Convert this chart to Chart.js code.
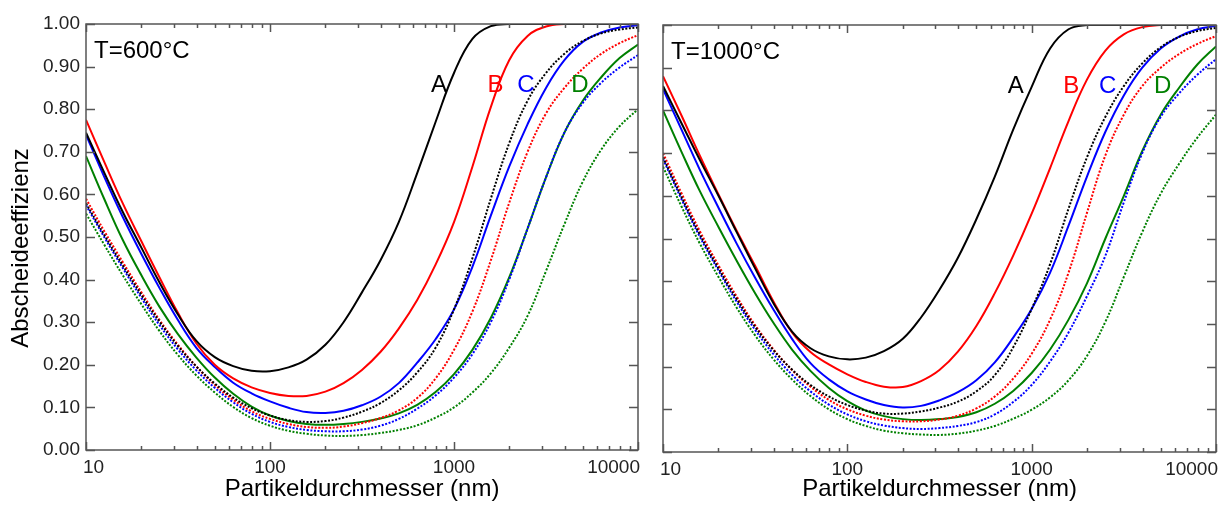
<!DOCTYPE html>
<html>
<head>
<meta charset="utf-8">
<script src="https://cdn.jsdelivr.net/npm/chart.js@4.4.1/dist/chart.umd.min.js"></script>
<style>
  html, body { margin: 0; padding: 0; background: #fff; }
  #wrap { position: relative; width: 1223px; height: 509px; }
  canvas { position: absolute; top: 0; }
  #c600 { left: 0; }
  #c1000 { left: 650px; }
</style>
</head>
<body>
<div id="wrap">
  <canvas id="c600" width="650" height="509"></canvas>
  <canvas id="c1000" width="573" height="509"></canvas>
</div>
<script>
// particle diameters (nm), 10 per decade
const diameters = [10, 12.6, 15.8, 20, 25.1, 31.6, 39.8, 50.1, 63.1, 79.4,
    100, 126, 158, 200, 251, 316, 398, 501, 631, 794,
    1000, 1259, 1585, 1995, 2512, 3162, 3981, 5012, 6310, 7943, 10000];

// T = 600 °C, solid curves
const t600A = [0.745, 0.650, 0.560, 0.475, 0.393, 0.318, 0.256, 0.218, 0.197, 0.186, 0.185, 0.194, 0.212, 0.247, 0.300, 0.370, 0.445, 0.535, 0.650, 0.770, 0.885, 0.965, 0.995, 1, 1, 1, 1, 1, 1, 1, 1];
const t600B = [0.775, 0.675, 0.580, 0.490, 0.405, 0.322, 0.250, 0.200, 0.168, 0.147, 0.134, 0.127, 0.127, 0.137, 0.157, 0.188, 0.230, 0.285, 0.352, 0.435, 0.535, 0.665, 0.805, 0.915, 0.972, 0.994, 1, 1, 1, 1, 1];
const t600C = [0.740, 0.640, 0.548, 0.460, 0.380, 0.305, 0.240, 0.195, 0.158, 0.133, 0.114, 0.099, 0.089, 0.087, 0.092, 0.105, 0.125, 0.157, 0.205, 0.260, 0.330, 0.430, 0.550, 0.665, 0.765, 0.850, 0.915, 0.958, 0.980, 0.992, 0.997];
const t600D = [0.690, 0.588, 0.494, 0.410, 0.336, 0.272, 0.217, 0.170, 0.132, 0.102, 0.081, 0.068, 0.061, 0.059, 0.061, 0.066, 0.074, 0.086, 0.106, 0.136, 0.178, 0.235, 0.310, 0.405, 0.520, 0.640, 0.745, 0.820, 0.875, 0.920, 0.952];
// T = 600 °C, dotted curves
const t600Adot = [0.579, 0.504, 0.434, 0.364, 0.301, 0.244, 0.196, 0.156, 0.123, 0.098, 0.081, 0.070, 0.066, 0.068, 0.076, 0.090, 0.110, 0.140, 0.182, 0.240, 0.330, 0.450, 0.590, 0.720, 0.820, 0.885, 0.930, 0.960, 0.978, 0.987, 0.992];
const t600Bdot = [0.590, 0.513, 0.442, 0.370, 0.305, 0.247, 0.196, 0.153, 0.118, 0.091, 0.073, 0.061, 0.054, 0.052, 0.055, 0.063, 0.075, 0.093, 0.122, 0.168, 0.235, 0.325, 0.445, 0.580, 0.700, 0.790, 0.850, 0.895, 0.930, 0.955, 0.974];
const t600Cdot = [0.575, 0.499, 0.428, 0.357, 0.293, 0.236, 0.187, 0.146, 0.112, 0.085, 0.066, 0.054, 0.047, 0.044, 0.044, 0.048, 0.057, 0.073, 0.097, 0.128, 0.170, 0.225, 0.300, 0.400, 0.520, 0.640, 0.745, 0.815, 0.862, 0.898, 0.927];
const t600Ddot = [0.555, 0.481, 0.411, 0.342, 0.279, 0.223, 0.175, 0.135, 0.101, 0.075, 0.057, 0.045, 0.038, 0.034, 0.033, 0.035, 0.040, 0.047, 0.058, 0.076, 0.100, 0.135, 0.180, 0.240, 0.315, 0.420, 0.530, 0.630, 0.705, 0.760, 0.800];

// T = 1000 °C, solid curves
const t1000A = [0.857, 0.770, 0.685, 0.600, 0.515, 0.430, 0.348, 0.282, 0.243, 0.224, 0.217, 0.221, 0.236, 0.265, 0.315, 0.380, 0.455, 0.545, 0.645, 0.755, 0.855, 0.945, 0.990, 1, 1, 1, 1, 1, 1, 1, 1];
const t1000B = [0.880, 0.788, 0.695, 0.603, 0.518, 0.436, 0.352, 0.280, 0.234, 0.205, 0.182, 0.164, 0.153, 0.152, 0.166, 0.192, 0.235, 0.295, 0.372, 0.460, 0.558, 0.665, 0.775, 0.872, 0.940, 0.978, 0.995, 1, 1, 1, 1];
const t1000C = [0.850, 0.755, 0.662, 0.572, 0.488, 0.408, 0.333, 0.265, 0.208, 0.170, 0.142, 0.123, 0.110, 0.104, 0.108, 0.121, 0.140, 0.168, 0.210, 0.268, 0.335, 0.420, 0.530, 0.645, 0.750, 0.835, 0.900, 0.945, 0.973, 0.990, 0.998];
const t1000D = [0.800, 0.703, 0.612, 0.527, 0.448, 0.372, 0.302, 0.240, 0.190, 0.150, 0.119, 0.097, 0.084, 0.077, 0.075, 0.077, 0.082, 0.093, 0.113, 0.143, 0.185, 0.240, 0.310, 0.395, 0.500, 0.600, 0.705, 0.790, 0.853, 0.908, 0.950];
// T = 1000 °C, dotted curves
const t1000Adot = [0.690, 0.597, 0.510, 0.430, 0.358, 0.293, 0.238, 0.193, 0.157, 0.130, 0.110, 0.097, 0.090, 0.090, 0.095, 0.104, 0.118, 0.142, 0.180, 0.245, 0.335, 0.440, 0.570, 0.690, 0.785, 0.857, 0.910, 0.948, 0.972, 0.986, 0.993];
const t1000Bdot = [0.700, 0.606, 0.518, 0.437, 0.364, 0.297, 0.240, 0.192, 0.153, 0.122, 0.100, 0.085, 0.076, 0.072, 0.072, 0.076, 0.085, 0.102, 0.130, 0.172, 0.230, 0.310, 0.420, 0.560, 0.695, 0.790, 0.857, 0.900, 0.932, 0.956, 0.974];
const t1000Cdot = [0.686, 0.592, 0.505, 0.425, 0.352, 0.286, 0.229, 0.181, 0.142, 0.111, 0.088, 0.072, 0.062, 0.056, 0.054, 0.056, 0.061, 0.070, 0.088, 0.117, 0.157, 0.212, 0.280, 0.365, 0.460, 0.585, 0.700, 0.785, 0.840, 0.884, 0.920];
const t1000Ddot = [0.668, 0.575, 0.489, 0.410, 0.338, 0.273, 0.217, 0.170, 0.131, 0.100, 0.077, 0.061, 0.050, 0.044, 0.041, 0.040, 0.043, 0.050, 0.061, 0.078, 0.099, 0.128, 0.168, 0.225, 0.305, 0.410, 0.515, 0.605, 0.675, 0.737, 0.790];

// axes
const xMajorTicks = [10, 100, 1000, 10000];
const xTickLabels = ['10', '100', '1000', '10000'];
const yTickValues = [0, 0.1, 0.2, 0.3, 0.4, 0.5, 0.6, 0.7, 0.8, 0.9, 1.0];
const yTickLabels = ['0.00', '0.10', '0.20', '0.30', '0.40', '0.50', '0.60', '0.70', '0.80', '0.90', '1.00'];

// curve names and where they sit (diameter, efficiency)
const curveNames = ['A', 'B', 'C', 'D'];
const nameX600 = [830, 1680, 2460, 4840];
const nameX1000 = [820, 1640, 2580, 5140];
const nameY = 0.857;

const FONT = "'Liberation Sans', Arial, sans-serif";
const COLORS = ['#000000', '#ff0000', '#0000ff', '#008000'];

// all minor + major tick values for the log axis
const xTickValues = [];
for (let dec = 10; dec < 10000; dec *= 10) {
    for (let m = 1; m < 10; m++) xTickValues.push(dec * m);
}
xTickValues.push(10000);

const panelDecor = {
    id: 'panelDecor',
    afterDatasetsDraw(chart, args, opts) {
        const { ctx, chartArea: a, scales: { x, y } } = chart;
        ctx.save();
        // frame + inward ticks
        ctx.strokeStyle = '#555';
        ctx.lineWidth = 1.5;
        ctx.strokeRect(a.left, a.top, a.right - a.left, a.bottom - a.top);
        ctx.beginPath();
        yTickValues.forEach(v => {
            const py = Math.round(y.getPixelForValue(v)) + 0.5;
            ctx.moveTo(a.left, py); ctx.lineTo(a.left + 9, py);
            ctx.moveTo(a.right, py); ctx.lineTo(a.right - 9, py);
        });
        x.ticks.forEach(t => {
            const px = Math.round(x.getPixelForValue(t.value)) + 0.5;
            const len = t.major ? 8 : 4;
            ctx.moveTo(px, a.bottom); ctx.lineTo(px, a.bottom - len);
            ctx.moveTo(px, a.top); ctx.lineTo(px, a.top + len);
        });
        ctx.stroke();

        // x tick labels, first and last kept inside the frame
        ctx.fillStyle = '#222';
        ctx.font = '19px ' + FONT;
        ctx.textBaseline = 'middle';
        const last = xMajorTicks.length - 1;
        xMajorTicks.forEach((v, i) => {
            const px = x.getPixelForValue(v);
            let tx = px;
            ctx.textAlign = 'center';
            if (i === 0) { ctx.textAlign = 'left'; tx = px - 3; }
            if (i === last) { ctx.textAlign = 'right'; tx = px + 2; }
            ctx.fillText(xTickLabels[i], tx, a.bottom + 18);
        });

        // temperature
        ctx.fillStyle = '#000';
        ctx.font = '24px ' + FONT;
        ctx.textAlign = 'left';
        ctx.fillText(opts.tempText, a.left + 8, a.top + 27);

        // curve names
        ctx.textAlign = 'center';
        curveNames.forEach((n, i) => {
            ctx.fillStyle = COLORS[i];
            ctx.fillText(n, x.getPixelForValue(opts.nameX[i]), y.getPixelForValue(nameY));
        });

        // y title (left panel only)
        if (opts.yTitle) {
            ctx.fillStyle = '#000';
            ctx.translate(21, (a.top + a.bottom) / 2 + 11);
            ctx.rotate(-Math.PI / 2);
            ctx.textAlign = 'center';
            ctx.fillText(opts.yTitle, 0, 0);
        }
        ctx.restore();
    }
};

function toPoints(vals) {
    return diameters.map((d, i) => ({ x: d, y: vals[i] }));
}

function drawPanel(id, tempText, solid, dotted, nameX, showY, box) {
    const datasets = [];
    dotted.forEach((vals, i) => datasets.push({
        data: toPoints(vals),
        borderColor: COLORS[i],
        borderWidth: 2,
        borderDash: [2, 1.6],
        pointRadius: 0,
        tension: 0.4
    }));
    solid.forEach((vals, i) => datasets.push({
        data: toPoints(vals),
        borderColor: COLORS[i],
        borderWidth: 2,
        pointRadius: 0,
        tension: 0.4
    }));

    new Chart(id, {
        type: 'line',
        data: { datasets },
        plugins: [panelDecor],
        options: {
            responsive: false,
            animation: false,
            events: [],
            layout: { padding: { left: 0, right: box.right, top: box.top, bottom: 0 } },
            plugins: {
                legend: { display: false },
                tooltip: { enabled: false },
                panelDecor: { tempText, nameX, yTitle: showY ? 'Abscheideeffizienz' : null }
            },
            scales: {
                x: {
                    type: 'logarithmic',
                    min: 10,
                    max: 10000,
                    grid: { display: false, drawTicks: false },
                    border: { display: false },
                    ticks: { display: false },
                    afterBuildTicks: s => {
                        s.ticks = xTickValues.map(v => ({ value: v, major: xMajorTicks.includes(v) }));
                    },
                    afterFit: s => { s.height = box.xHeight; },
                    title: {
                        display: true,
                        text: 'Partikeldurchmesser (nm)',
                        color: '#000',
                        font: { family: FONT, size: 24 },
                        padding: { top: 0, bottom: 5 }
                    }
                },
                y: {
                    min: 0,
                    max: 1,
                    grid: { display: false, drawTicks: false },
                    border: { display: false },
                    afterBuildTicks: s => {
                        s.ticks = yTickValues.map(v => ({ value: v }));
                    },
                    ticks: {
                        display: showY,
                        padding: 6,
                        color: '#222',
                        font: { family: FONT, size: 19 },
                        callback: (v, i) => yTickLabels[i]
                    },
                    afterFit: s => { s.width = box.yWidth; }
                }
            }
        }
    });
}

drawPanel('c600', 'T=600\u00B0C',
    [t600A, t600B, t600C, t600D],
    [t600Adot, t600Bdot, t600Cdot, t600Ddot],
    nameX600, true,
    { right: 12, top: 24, xHeight: 59, yWidth: 86 });

drawPanel('c1000', 'T=1000\u00B0C',
    [t1000A, t1000B, t1000C, t1000D],
    [t1000Adot, t1000Bdot, t1000Cdot, t1000Ddot],
    nameX1000, false,
    { right: 7, top: 25, xHeight: 57, yWidth: 13 });
</script>
</body>
</html>
